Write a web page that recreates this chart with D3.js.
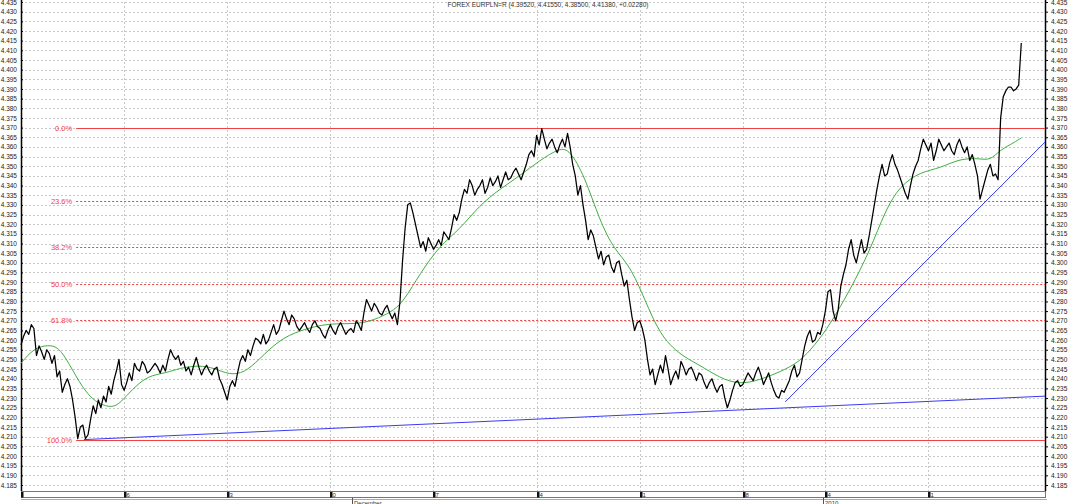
<!DOCTYPE html>
<html>
<head>
<meta charset="utf-8">
<script src="https://cdn.jsdelivr.net/npm/d3@7"></script>
<style>
  body { margin: 0; background: #fff; }
  svg { display: block; font-family: "Liberation Sans", Arial, sans-serif; }
  .grid line { stroke: #c8c8c8; stroke-dasharray: 2,2; }
  .axis text { font-size: 6.5px; fill: #222; }
</style>
</head>
<body>
<svg id="chart"></svg>
<script>
// EURPLN price, 8 points per trading day (step of half a bar)
const price = [
  4.2575, 4.262, 4.265, 4.263, 4.268, 4.266, 4.252, 4.257, 4.254, 4.250,
  4.255, 4.253, 4.248, 4.252, 4.241, 4.244, 4.233, 4.237, 4.240, 4.236,
  4.229, 4.220, 4.209, 4.215, 4.216, 4.209, 4.211, 4.219, 4.226, 4.222,
  4.229, 4.225, 4.231, 4.228, 4.236, 4.232, 4.239, 4.244, 4.250, 4.237,
  4.234, 4.238, 4.243, 4.239, 4.248, 4.245, 4.244, 4.249, 4.247, 4.243,
  4.244, 4.246, 4.248, 4.246, 4.243, 4.247, 4.244, 4.250, 4.255, 4.252,
  4.250, 4.252, 4.247, 4.249, 4.244, 4.246, 4.242, 4.247, 4.251, 4.246,
  4.242, 4.245, 4.247, 4.244, 4.242, 4.245, 4.246, 4.240, 4.237, 4.233,
  4.229, 4.236, 4.239, 4.236, 4.243, 4.249, 4.252, 4.249, 4.255, 4.252,
  4.257, 4.261, 4.260, 4.258, 4.263, 4.258, 4.260, 4.264, 4.268, 4.263,
  4.265, 4.270, 4.275, 4.271, 4.268, 4.273, 4.271, 4.267, 4.265, 4.267,
  4.269, 4.266, 4.264, 4.268, 4.270, 4.267, 4.266, 4.263, 4.261, 4.265,
  4.268, 4.265, 4.263, 4.267, 4.269, 4.266, 4.263, 4.265, 4.266, 4.264,
  4.270, 4.268, 4.265, 4.274, 4.281, 4.278, 4.275, 4.279, 4.277, 4.274,
  4.273, 4.276, 4.278, 4.274, 4.271, 4.274, 4.268, 4.280, 4.301, 4.318,
  4.330, 4.331, 4.326, 4.320, 4.314, 4.308, 4.311, 4.306, 4.313, 4.310,
  4.307, 4.309, 4.312, 4.309, 4.316, 4.314, 4.312, 4.318, 4.325, 4.322,
  4.326, 4.333, 4.338, 4.336, 4.343, 4.340, 4.335, 4.338, 4.340, 4.343,
  4.336, 4.339, 4.344, 4.340, 4.342, 4.345, 4.339, 4.343, 4.347, 4.343,
  4.344, 4.347, 4.349, 4.346, 4.343, 4.347, 4.351, 4.356, 4.358, 4.355,
  4.366, 4.361, 4.3695, 4.364, 4.359, 4.362, 4.364, 4.360, 4.357, 4.361,
  4.364, 4.360, 4.367, 4.360, 4.351, 4.345, 4.335, 4.340, 4.330, 4.322,
  4.312, 4.317, 4.314, 4.308, 4.302, 4.306, 4.299, 4.303, 4.304, 4.298,
  4.295, 4.300, 4.301, 4.294, 4.288, 4.291, 4.281, 4.272, 4.265, 4.269,
  4.270, 4.266, 4.260, 4.250, 4.242, 4.245, 4.237, 4.242, 4.247, 4.243,
  4.252, 4.245, 4.237, 4.241, 4.244, 4.240, 4.249, 4.246, 4.242, 4.245,
  4.246, 4.243, 4.239, 4.243, 4.242, 4.238, 4.235, 4.238, 4.240, 4.236,
  4.233, 4.236, 4.237, 4.230, 4.225, 4.229, 4.234, 4.238, 4.239, 4.236,
  4.237, 4.240, 4.243, 4.241, 4.239, 4.243, 4.246, 4.242, 4.237, 4.240,
  4.243, 4.238, 4.234, 4.231, 4.230, 4.234, 4.233, 4.236, 4.239, 4.244,
  4.247, 4.241, 4.243, 4.250, 4.257, 4.262, 4.265, 4.259, 4.260, 4.264,
  4.263, 4.268, 4.275, 4.285, 4.286, 4.275, 4.270, 4.276, 4.288, 4.294,
  4.299, 4.307, 4.312, 4.304, 4.300, 4.306, 4.312, 4.305, 4.307, 4.314,
  4.322, 4.330, 4.338, 4.345, 4.351, 4.345, 4.346, 4.352, 4.356, 4.351,
  4.348, 4.344, 4.340, 4.336, 4.333, 4.340, 4.346, 4.350, 4.353, 4.359,
  4.364, 4.361, 4.358, 4.362, 4.353, 4.358, 4.364, 4.361, 4.358, 4.360,
  4.362, 4.358, 4.356, 4.361, 4.364, 4.360, 4.357, 4.360, 4.353, 4.356,
  4.351, 4.345, 4.333, 4.338, 4.343, 4.348, 4.351, 4.345, 4.346, 4.343,
  4.375, 4.386, 4.389, 4.391, 4.391, 4.389, 4.390, 4.392, 4.4138
];

// moving average, sampled at bar index
const maIdx = [0, 2.5, 5.4, 7, 8.7, 11.3, 13.8, 16.5, 18.5, 20.4, 22.9, 25.4, 28.2, 30.7,
  34.6, 37.5, 40.4, 43.3, 46.2, 50, 54, 59.8, 65.6, 69.5, 72.4, 74.4, 77.3, 81.2, 85,
  89, 92.8, 96.7, 100.6, 104.5, 106.4, 109.3, 112.2, 115.1, 118, 121, 123.9, 127.8,
  131.7, 135.5, 139.4, 143.3, 147.2, 151, 154, 156.9, 160.8, 164.7, 167.6, 170.5,
  174.4, 178.3, 182.1, 186, 188, 189.9, 191.8, 194];
const maVal = [4.248, 4.256, 4.2575, 4.2565, 4.251, 4.238, 4.229, 4.2255, 4.2255, 4.231,
  4.238, 4.242, 4.243, 4.2455, 4.247, 4.2455, 4.242, 4.243, 4.250, 4.260, 4.265, 4.269,
  4.268, 4.2715, 4.2755, 4.281, 4.294, 4.309, 4.317, 4.330, 4.338, 4.345, 4.353, 4.3595,
  4.3585, 4.345, 4.322, 4.3066, 4.299, 4.281, 4.2627, 4.2523, 4.247, 4.2404, 4.237,
  4.2394, 4.2435, 4.2487, 4.2575, 4.268, 4.286, 4.3066, 4.327, 4.340, 4.347, 4.349,
  4.354, 4.354, 4.353, 4.3584, 4.361, 4.3646];

// Fibonacci retracement between the November low and the December high
const fibHigh = 4.370;
const fibLow = 4.2085;
const fibLevels = [0, 0.236, 0.382, 0.5, 0.618, 1];
const fibLabels = ['0.0%', '23.6%', '38.2%', '50.0%', '61.8%', '100.0%'];
const fibStart = 10.7;

// trend lines: [start index, start price, end index, end price]
const trendLines = [
  [12.2, 4.2085, 198.6, 4.2310],
  [148.2, 4.2280, 198.6, 4.3625]
];

// weekly ticks (bar index) and their labels
const weekIdx = [0, 20, 40, 60, 80, 100, 120, 140, 156, 176];
const weekLabels = ['9', '16', '23', '30', '07', '14', '21', '28', '04', '11'];
const periodIdx = [64.2, 155.5];
const periodLabels = ['December', '2010'];

const title = 'FOREX EURPLN=R (4.39520, 4.41550, 4.38500, 4.41380, +0.02280)';

class PriceChart {
  constructor(_config) {
    this.config = {
      parentElement: _config.parentElement,
      containerWidth: _config.containerWidth || 1068,
      containerHeight: _config.containerHeight || 504,
      margin: _config.margin || { top: 2, right: 23, bottom: 19, left: 21 }
    }
    this.initVis();
  }

  initVis() {
    let vis = this;
    const m = vis.config.margin;
    vis.width = vis.config.containerWidth - m.left - m.right;
    vis.height = vis.config.containerHeight - m.top - m.bottom;

    vis.svg = d3.select(vis.config.parentElement)
      .attr('width', vis.config.containerWidth)
      .attr('height', vis.config.containerHeight);

    vis.xScale = d3.scaleLinear().domain([0, 198.6]).range([0, vis.width]);
    vis.yScale = d3.scaleLinear().domain([4.185, 4.435]).range([483, 0]);

    vis.chart = vis.svg.append('g')
      .attr('transform', `translate(${m.left},${m.top})`);
  }

  renderVis() {
    let vis = this;
    const yTicks = d3.range(4.185, 4.4351, 0.005);

    // gridlines
    vis.chart.append('g').attr('class', 'grid')
      .selectAll('line').data(yTicks).join('line')
      .attr('x1', 0).attr('x2', vis.width)
      .attr('y1', d => Math.round(vis.yScale(d)) + 0.5)
      .attr('y2', d => Math.round(vis.yScale(d)) + 0.5);

    vis.chart.append('g').attr('class', 'grid')
      .selectAll('line').data(weekIdx.slice(1)).join('line')
      .attr('x1', d => Math.round(vis.xScale(d)) + 0.5)
      .attr('x2', d => Math.round(vis.xScale(d)) + 0.5)
      .attr('y1', 0).attr('y2', 489);

    // axes
    const fmt = d3.format('.3f');
    const leftAxis = d3.axisLeft(vis.yScale).tickValues(yTicks).tickSize(3).tickPadding(1).tickFormat(fmt);
    const rightAxis = d3.axisRight(vis.yScale).tickValues(yTicks).tickSize(3).tickPadding(3).tickFormat(fmt);
    vis.chart.append('g').attr('class', 'axis').call(leftAxis)
      .call(g => g.select('.domain').attr('d', 'M0.5,-2V489').attr('stroke', '#000').attr('stroke-width', 1.5))
      .call(g => g.selectAll('.tick line').attr('x2', 2));
    vis.chart.append('g').attr('class', 'axis')
      .attr('transform', `translate(${vis.width},0)`)
      .call(rightAxis)
      .call(g => g.select('.domain').attr('d', 'M0.5,-2V489').attr('stroke', '#000').attr('stroke-width', 1.5));

    // fibonacci levels
    const fibY = f => vis.yScale(fibHigh - f * (fibHigh - fibLow));
    const fib = vis.chart.append('g');
    fib.selectAll('line').data(fibLevels).join('line')
      .attr('x1', vis.xScale(fibStart)).attr('x2', vis.width)
      .attr('y1', d => Math.round(fibY(d)) + 0.5)
      .attr('y2', d => Math.round(fibY(d)) + 0.5)
      .attr('stroke', '#f04040')
      .attr('stroke-dasharray', (d, i) => (i === 0 || i === 5) ? null : '2,2');
    fib.selectAll('text').data(fibLevels).join('text')
      .attr('x', vis.xScale(fibStart) - 4)
      .attr('y', d => fibY(d) + 3)
      .attr('text-anchor', 'end')
      .attr('font-size', 7.5)
      .attr('fill', '#f03c3c')
      .text((d, i) => fibLabels[i]);

    // moving average
    const ma = maIdx.map((d, i) => [d, maVal[i]]);
    vis.chart.append('path')
      .datum(ma)
      .attr('fill', 'none')
      .attr('stroke', '#3fae3f')
      .attr('stroke-width', 1)
      .attr('d', d3.line().x(d => vis.xScale(d[0])).y(d => vis.yScale(d[1])).curve(d3.curveBasis));

    // trend lines
    vis.chart.append('g').selectAll('line').data(trendLines).join('line')
      .attr('x1', d => vis.xScale(d[0])).attr('y1', d => vis.yScale(d[1]))
      .attr('x2', d => vis.xScale(d[2])).attr('y2', d => vis.yScale(d[3]))
      .attr('stroke', '#3a3aee').attr('stroke-width', 1);

    // price
    vis.chart.append('path')
      .datum(price)
      .attr('fill', 'none')
      .attr('stroke', '#000')
      .attr('stroke-width', 1.25)
      .attr('stroke-linejoin', 'round')
      .attr('d', d3.line().x((d, i) => vis.xScale(i / 2)).y(d => vis.yScale(d)));

    // time bar at the bottom
    const bar = vis.chart.append('g').attr('transform', 'translate(0,489)');
    bar.append('rect')
      .attr('x', 0.5).attr('y', 0.5).attr('width', vis.width).attr('height', 6)
      .attr('fill', '#fff').attr('stroke', '#777');
    bar.append('line').attr('x1', 0).attr('x2', vis.width + 2)
      .attr('y1', 8.5).attr('y2', 8.5).attr('stroke', '#aaa');
    const wk = bar.selectAll('.wk').data(weekIdx).join('g').attr('class', 'wk')
      .attr('transform', d => `translate(${Math.round(vis.xScale(d))},0)`);
    wk.append('rect').attr('x', 0).attr('y', 1).attr('width', 2.5).attr('height', 5.5).attr('fill', '#111');
    wk.append('text').attr('x', 2.5).attr('y', 6).attr('font-size', 6).attr('fill', '#333')
      .text((d, i) => weekLabels[i].slice(1));
    const per = bar.selectAll('.per').data(periodIdx).join('g').attr('class', 'per')
      .attr('transform', d => `translate(${Math.round(vis.xScale(d)) + 0.5},0)`);
    per.append('line').attr('y1', 6.5).attr('y2', 15).attr('stroke', '#555');
    per.append('text').attr('x', 1.5).attr('y', 13.5).attr('font-size', 6).attr('fill', '#333')
      .text((d, i) => periodLabels[i]);

    // title
    vis.svg.append('text')
      .attr('x', 548).attr('y', 7)
      .attr('text-anchor', 'middle')
      .attr('font-size', 6.5)
      .attr('fill', '#333')
      .text(title);
  }
}

const chart = new PriceChart({ parentElement: '#chart' });
chart.renderVis();
</script>
</body>
</html>
